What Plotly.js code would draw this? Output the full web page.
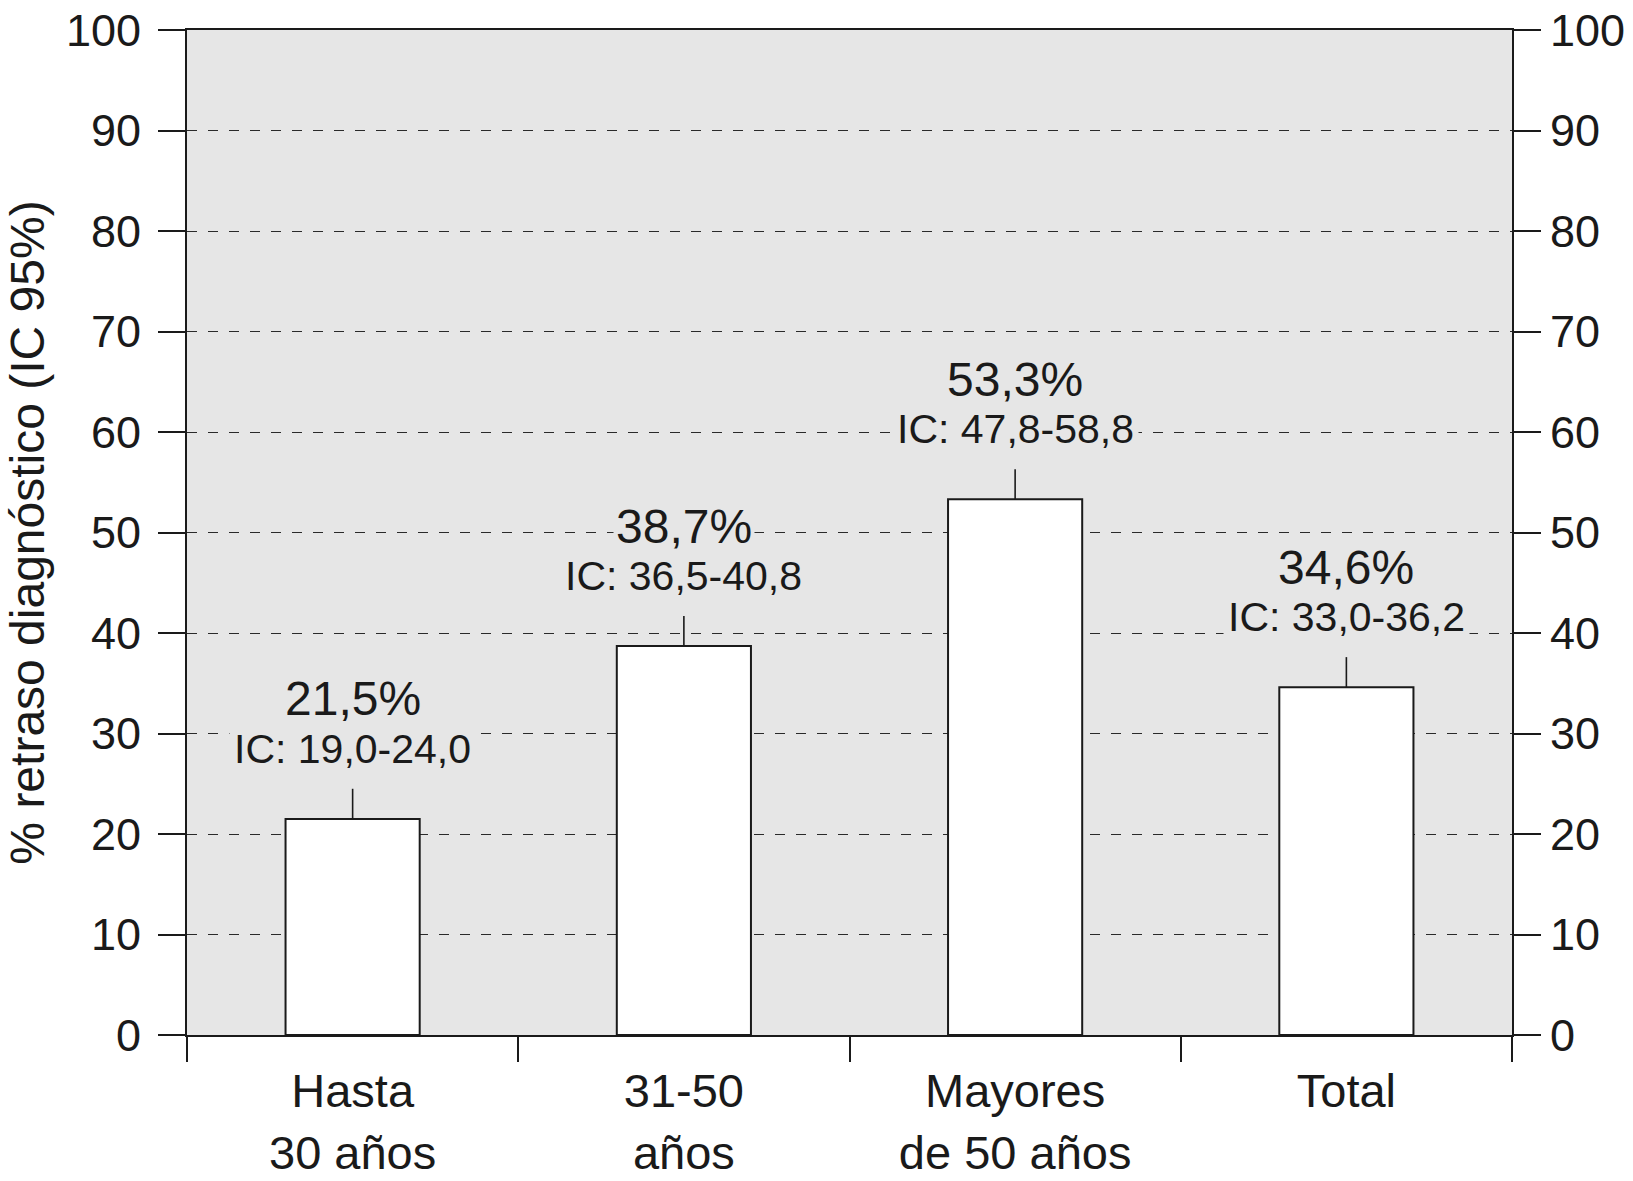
<!DOCTYPE html>
<html>
<head>
<meta charset="utf-8">
<script src="https://cdn.plot.ly/plotly-3.0.1.min.js"></script>
<style>html,body{margin:0;padding:0;background:#fff;}#chart{width:1633px;height:1181px;}</style>
</head>
<body>
<div id="chart"></div>
<script>
// Data
const categories = ["Hasta<br>30 años", "31-50<br>años", "Mayores<br>de 50 años", "Total"];
const values = [21.5, 38.7, 53.3, 34.6];
const valueLabels = ["21,5%", "38,7%", "53,3%", "34,6%"];
const ciLabels = ["IC: 19,0-24,0", "IC: 36,5-40,8", "IC: 47,8-58,8", "IC: 33,0-36,2"];
const yTicks = [0, 10, 20, 30, 40, 50, 60, 70, 80, 90, 100];
const leaderLen = [3, 3, 3, 3];
const leaderMinus = [0, 0, 0, 0];

const FONT = "Liberation Sans, Arial, Helvetica, sans-serif";
const INK = "#1a1a1a";
const PLOTBG = "#e6e6e6";

const bars = {
  type: "bar",
  x: categories,
  y: values,
  width: 0.405,
  marker: { color: "#ffffff", line: { color: INK, width: 2 } },
  error_y: {
    type: "data", symmetric: false, array: leaderLen, arrayminus: leaderMinus,
    width: 0, thickness: 1.6, color: INK
  },
  hoverinfo: "skip",
  showlegend: false
};

const ghost = {
  type: "scatter",
  x: categories,
  y: values,
  yaxis: "y2",
  mode: "markers",
  marker: { opacity: 0 },
  hoverinfo: "skip",
  showlegend: false
};

const annotations = [];
categories.forEach((c, i) => {
  annotations.push({
    x: c, y: values[i], xref: "x", yref: "y",
    text: valueLabels[i], showarrow: false,
    yanchor: "middle", yshift: 120,
    bgcolor: PLOTBG, borderpad: 2,
    font: { family: FONT, size: 48, color: INK }
  });
  annotations.push({
    x: c, y: values[i], xref: "x", yref: "y",
    text: ciLabels[i], showarrow: false,
    yanchor: "middle", yshift: 70,
    bgcolor: PLOTBG, borderpad: 4,
    font: { family: FONT, size: 41, color: INK }
  });
});

const yCommon = {
  range: [0, 100],
  tickvals: yTicks,
  ticktext: yTicks.map(String),
  ticks: "outside",
  ticklen: 27,
  tickwidth: 2,
  tickcolor: INK,
  showline: true,
  linecolor: INK,
  linewidth: 2,
  zeroline: false,
  tickfont: { family: FONT, size: 45, color: INK },
  fixedrange: true
};

const layout = {
  width: 1633,
  height: 1181,
  margin: { l: 187, r: 121, t: 30, b: 146 },
  paper_bgcolor: "#ffffff",
  plot_bgcolor: PLOTBG,
  font: { family: FONT, color: INK },
  bargap: 0.5,
  xaxis: {
    type: "category",
    tickson: "boundaries",
    ticks: "outside",
    ticklen: 25,
    tickwidth: 2,
    tickcolor: INK,
    showline: true,
    linecolor: INK,
    linewidth: 2,
    mirror: true,
    showgrid: false,
    ticklabelstandoff: 14,
    tickfont: { family: FONT, size: 47, color: INK },
    fixedrange: true
  },
  yaxis: Object.assign({}, yCommon, {
    side: "left",
    showgrid: true,
    gridcolor: "#2a2a2a",
    gridwidth: 1,
    griddash: "10px,11px",
    ticklabelstandoff: 8,
    title: {
      text: "% retraso diagnóstico (IC 95%)",
      font: { family: FONT, size: 48, color: INK },
      standoff: 6
    }
  }),
  yaxis2: Object.assign({}, yCommon, {
    side: "right",
    overlaying: "y",
    showgrid: false,
    ticklabelstandoff: 0
  }),
  annotations: annotations
};

Plotly.newPlot("chart", [bars, ghost], layout, { displayModeBar: false, staticPlot: true });
</script>
</body>
</html>
